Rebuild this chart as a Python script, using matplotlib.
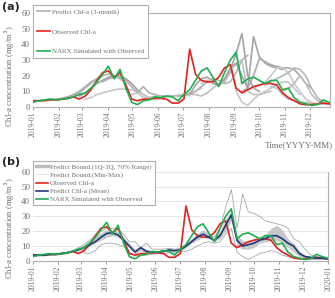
import matplotlib
matplotlib.use("Agg")
import matplotlib.pyplot as plt
import matplotlib.dates as mdates
import numpy as np
import pandas as pd

plt.rcParams['font.family'] = ['Liberation Serif', 'DejaVu Serif']

dates = pd.date_range("2019-01-01", periods=53, freq="7D")

observed = [4, 4, 4, 4.5, 4.5, 5, 5.5, 6.5, 5, 7, 11, 17, 22, 23, 19, 22, 14, 5, 4, 5, 5, 5.5,
            5.5, 5, 2.5, 2.5, 5, 37, 21, 17, 16, 16, 19, 25, 27, 12, 9, 11, 13, 14, 15, 15,
            14, 9, 6, 4, 2, 1.5, 1.5, 2, 2.5, 2, 1.5]
narx = [3, 4, 4.5, 5, 4.5, 5, 5.5, 6.5, 8, 9, 12, 16, 21, 26, 18, 24, 12, 3, 1.5, 4, 4.5, 6.5,
        6, 7, 6.5, 4, 8, 11, 17, 23, 25, 19, 13, 22, 30, 35, 15, 18, 19, 17, 15, 17, 17, 11,
        12, 6, 3, 2, 1, 1.5, 4.5, 3, 2]
pred_mean = [4, 4, 4, 4.5, 4.5, 5, 5.5, 6.5, 7.5, 9, 11, 13, 16, 18.5, 19, 17.5, 14, 10, 6, 9,
             6.5, 6, 6, 6.5, 7.5, 7, 7.5, 10, 13, 16, 18, 16, 14, 17, 24, 31, 14, 10, 11, 12,
             14, 15, 17, 17, 15, 12, 10, 5, 3, 2.5, 2, 2, 1.5]
q1 = [3.5, 3.5, 3.5, 4, 4, 4.5, 5, 6, 7, 8, 10, 12, 14, 16, 17, 16, 13, 9, 5, 7, 5, 5, 5, 6,
      6, 6.5, 6.5, 9, 12, 14, 16, 15, 13, 15, 20, 27, 10, 8, 8, 9, 12, 13, 14, 14, 12, 9, 6,
      3, 2, 2, 1.5, 1.5, 1]
q3 = [4.5, 4.5, 4.5, 5, 5, 5.5, 6, 7, 9, 11, 14, 17, 19, 21, 21, 20, 16, 12, 8, 10, 8, 7, 7,
      7.5, 8, 8, 8.5, 11, 15, 18, 20, 18, 15, 20, 28, 34, 17, 14, 13, 14, 16, 18, 22, 24, 21,
      15, 12, 7, 4, 3, 2.5, 2.5, 2]
pmin = [3.5, 3.5, 3.5, 4, 4, 4.5, 5, 6, 6, 5.5, 5, 7, 11, 12, 12, 11, 10, 6, 4, 3.5, 4, 4.5,
        5, 5, 5.5, 5.5, 6, 6.5, 8, 10, 12, 13, 12, 13, 18, 22, 6, 3, 1, 3, 5, 6, 7, 6, 4, 3,
        2, 1.5, 1, 1, 1, 1, 1]
pmax = [4.5, 4.5, 4.5, 5, 5, 5.5, 6, 7, 9, 11, 14, 17, 20, 22, 22, 21, 18, 13, 13, 9, 12, 8,
        8, 8, 8.5, 8, 8.5, 11, 14, 17, 20, 18, 16, 22, 36, 48, 22, 45, 33, 32, 30, 27, 26, 25,
        24, 22, 15, 13, 8, 4, 3, 2, 2]

# 3-month predictions: (start week index, values)
seg_starts = [0, 4, 8, 9, 12, 17, 21, 25, 27, 29, 31, 34, 36, 38, 40, 41, 43]
seg_values = [
    [4, 4, 4.5, 5, 5, 5.5, 6.5, 8, 10, 13, 16, 18, 20],
    [4.5, 5, 5.5, 7, 9, 12, 15, 18, 20, 21, 20, 18, 15],
    [7, 9, 12, 15, 17, 19, 20, 20, 18, 15, 11, 8, 6],
    [5, 6, 8, 9, 10, 11, 11.5, 11.5, 11, 10, 8, 6, 5],
    [16, 18, 19, 19, 17, 13, 9, 13, 9, 8, 7, 7, 7],
    [8, 9, 6, 6, 7, 6.5, 7, 7, 7.5, 8, 9, 10, 12],
    [6, 6, 6.5, 7, 7, 7.5, 8, 8, 7, 9, 12, 15, 17],
    [7, 7.5, 8, 10, 13, 16, 18, 17, 15, 16, 22, 30, 33],
    [8, 14, 18, 19, 17, 14, 16, 24, 34, 47, 20, 12, 10],
    [15, 17, 16, 14, 16, 22, 28, 30, 10, 8, 8, 9, 10],
    [15, 14, 18, 25, 28, 20, 12, 45, 32, 28, 26, 25, 24],
    [27, 10, 3, 1, 5, 8, 10, 12, 14, 16, 16, 12, 8],
    [10, 12, 20, 31, 29, 27, 26, 25, 25, 24, 20, 15, 12],
    [12, 14, 16, 20, 25, 25, 22, 15, 10, 5, 3, 2, 2],
    [14, 16, 18, 20, 22, 25, 24, 20, 12, 6, 3, 2, 2],
    [13, 12, 8, 5, 4, 3, 3, 2, 2, 2, 2, 2],
    [10, 12, 15, 20, 15, 8, 4, 3, 2, 2],
]
seg_colors = ['#a8a8a8', '#b8b8b8', '#a0a0a0', '#c8c8c8', '#b0b0b0', '#c4c4c4', '#bdbdbd',
              '#b4b4b4', '#a6a6a6', '#c0c0c0', '#a4a4a4', '#c6c6c6', '#aaaaaa', '#cacaca',
              '#b6b6b6', '#c2c2c2', '#bcbcbc']

RED = '#e8201f'
GREEN = '#1fae4e'
BLUE = '#1f3a7a'
TXT = '#707070'

fig = plt.figure(figsize=(3.35, 2.98), dpi=100)

def style_axis(ax, xlim_end, grid, label_y):
    ax.set_ylim(0, 60)
    ax.set_yticks(range(0, 61, 10))
    ax.set_xlim(pd.Timestamp("2019-01-01"), pd.Timestamp(xlim_end))
    ax.xaxis.set_major_locator(mdates.MonthLocator())
    ax.xaxis.set_major_formatter(mdates.DateFormatter('%Y-%m'))
    ax.tick_params(axis='x', labelrotation=90, labelsize=5.5, colors=TXT, length=2, width=0.5, pad=1)
    ax.tick_params(axis='y', labelsize=6.5, colors=TXT, length=0, pad=2)
    for s in ax.spines.values():
        s.set_color('#b0b0b0')
        s.set_linewidth(0.8)
    ax.spines['left'].set_visible(False)
    if grid:
        ax.grid(axis='y', color='#e2e2e2', lw=0.6)
        ax.spines['top'].set_visible(False)
    ax.set_axisbelow(True)
    ax.set_ylabel('Chl-a concentration (mg/m$^3$)', fontsize=6.2, color=TXT)
    ax.yaxis.set_label_coords(-0.055, label_y)

# Panel (a)
ax1 = fig.add_axes([0.0985, 0.641, 0.886, 0.315])
for st, vals, c in zip(seg_starts, seg_values, seg_colors):
    ax1.plot(dates[st:st + len(vals)], vals, color=c, lw=1.2)
l_red, = ax1.plot(dates, observed, color=RED, lw=1.2)
l_grn, = ax1.plot(dates, narx, color=GREEN, lw=1.2)
l_gray = plt.Line2D([], [], color='#b0b0b0', lw=1.2)
style_axis(ax1, "2019-12-25", grid=False, label_y=0.33)
leg1 = ax1.legend([l_gray, l_red, l_grn],
                  ['Predict Chl-a (3-month)', 'Observed Chl-a', 'NARX Simulated with Observed'],
                  loc='upper left', bbox_to_anchor=(-0.012, 1.125), fontsize=5.0,
                  labelspacing=1.95, handlelength=1.8, handletextpad=0.3, borderpad=0.6,
                  fancybox=False, framealpha=1, edgecolor='#b0b0b0', labelcolor=TXT)
leg1.get_frame().set_linewidth(0.8)
fig.text(0.995, 0.513, 'Time(YYYY-MM)', ha='right', va='center', fontsize=6.5, color=TXT)
fig.text(0.005, 0.975, '(a)', ha='left', va='center', fontsize=8, fontweight='bold',
         family='DejaVu Sans', color='#222222')

# Panel (b)
ax2 = fig.add_axes([0.0985, 0.124, 0.882, 0.300])
band = ax2.fill_between(dates, q1, q3, color='#c8c8c8', lw=0)
l_mm, = ax2.plot(dates, pmax, color='#a8a8a8', lw=0.6)
ax2.plot(dates, pmin, color='#a8a8a8', lw=0.6)
r2, = ax2.plot(dates, observed, color=RED, lw=1.2)
b2, = ax2.plot(dates, pred_mean, color=BLUE, lw=1.2)
g2, = ax2.plot(dates, narx, color=GREEN, lw=1.2)
band_h = plt.Line2D([], [], color='#bdbdbd', lw=2.5)
mm_h = plt.Line2D([], [], color='#e0e0e0', lw=0.6)
style_axis(ax2, "2020-01-01", grid=True, label_y=0.37)
leg2 = ax2.legend([band_h, mm_h, r2, b2, g2],
                  ['Predict Bound.(1Q-3Q, 70% Range)', 'Predict Bound.(Min-Max)',
                   'Observed Chl-a', 'Predict Chl-a (Mean)', 'NARX Simulated with Observed'],
                  loc='upper left', bbox_to_anchor=(-0.012, 1.16), fontsize=5.0,
                  labelspacing=0.3, handlelength=1.8, handletextpad=0.3, borderpad=0.4,
                  fancybox=False, framealpha=1, edgecolor='#b0b0b0', labelcolor=TXT)
leg2.get_frame().set_linewidth(0.8)
fig.text(0.005, 0.455, '(b)', ha='left', va='center', fontsize=8, fontweight='bold',
         family='DejaVu Sans', color='#222222')

fig.savefig('out.png', dpi=100)
